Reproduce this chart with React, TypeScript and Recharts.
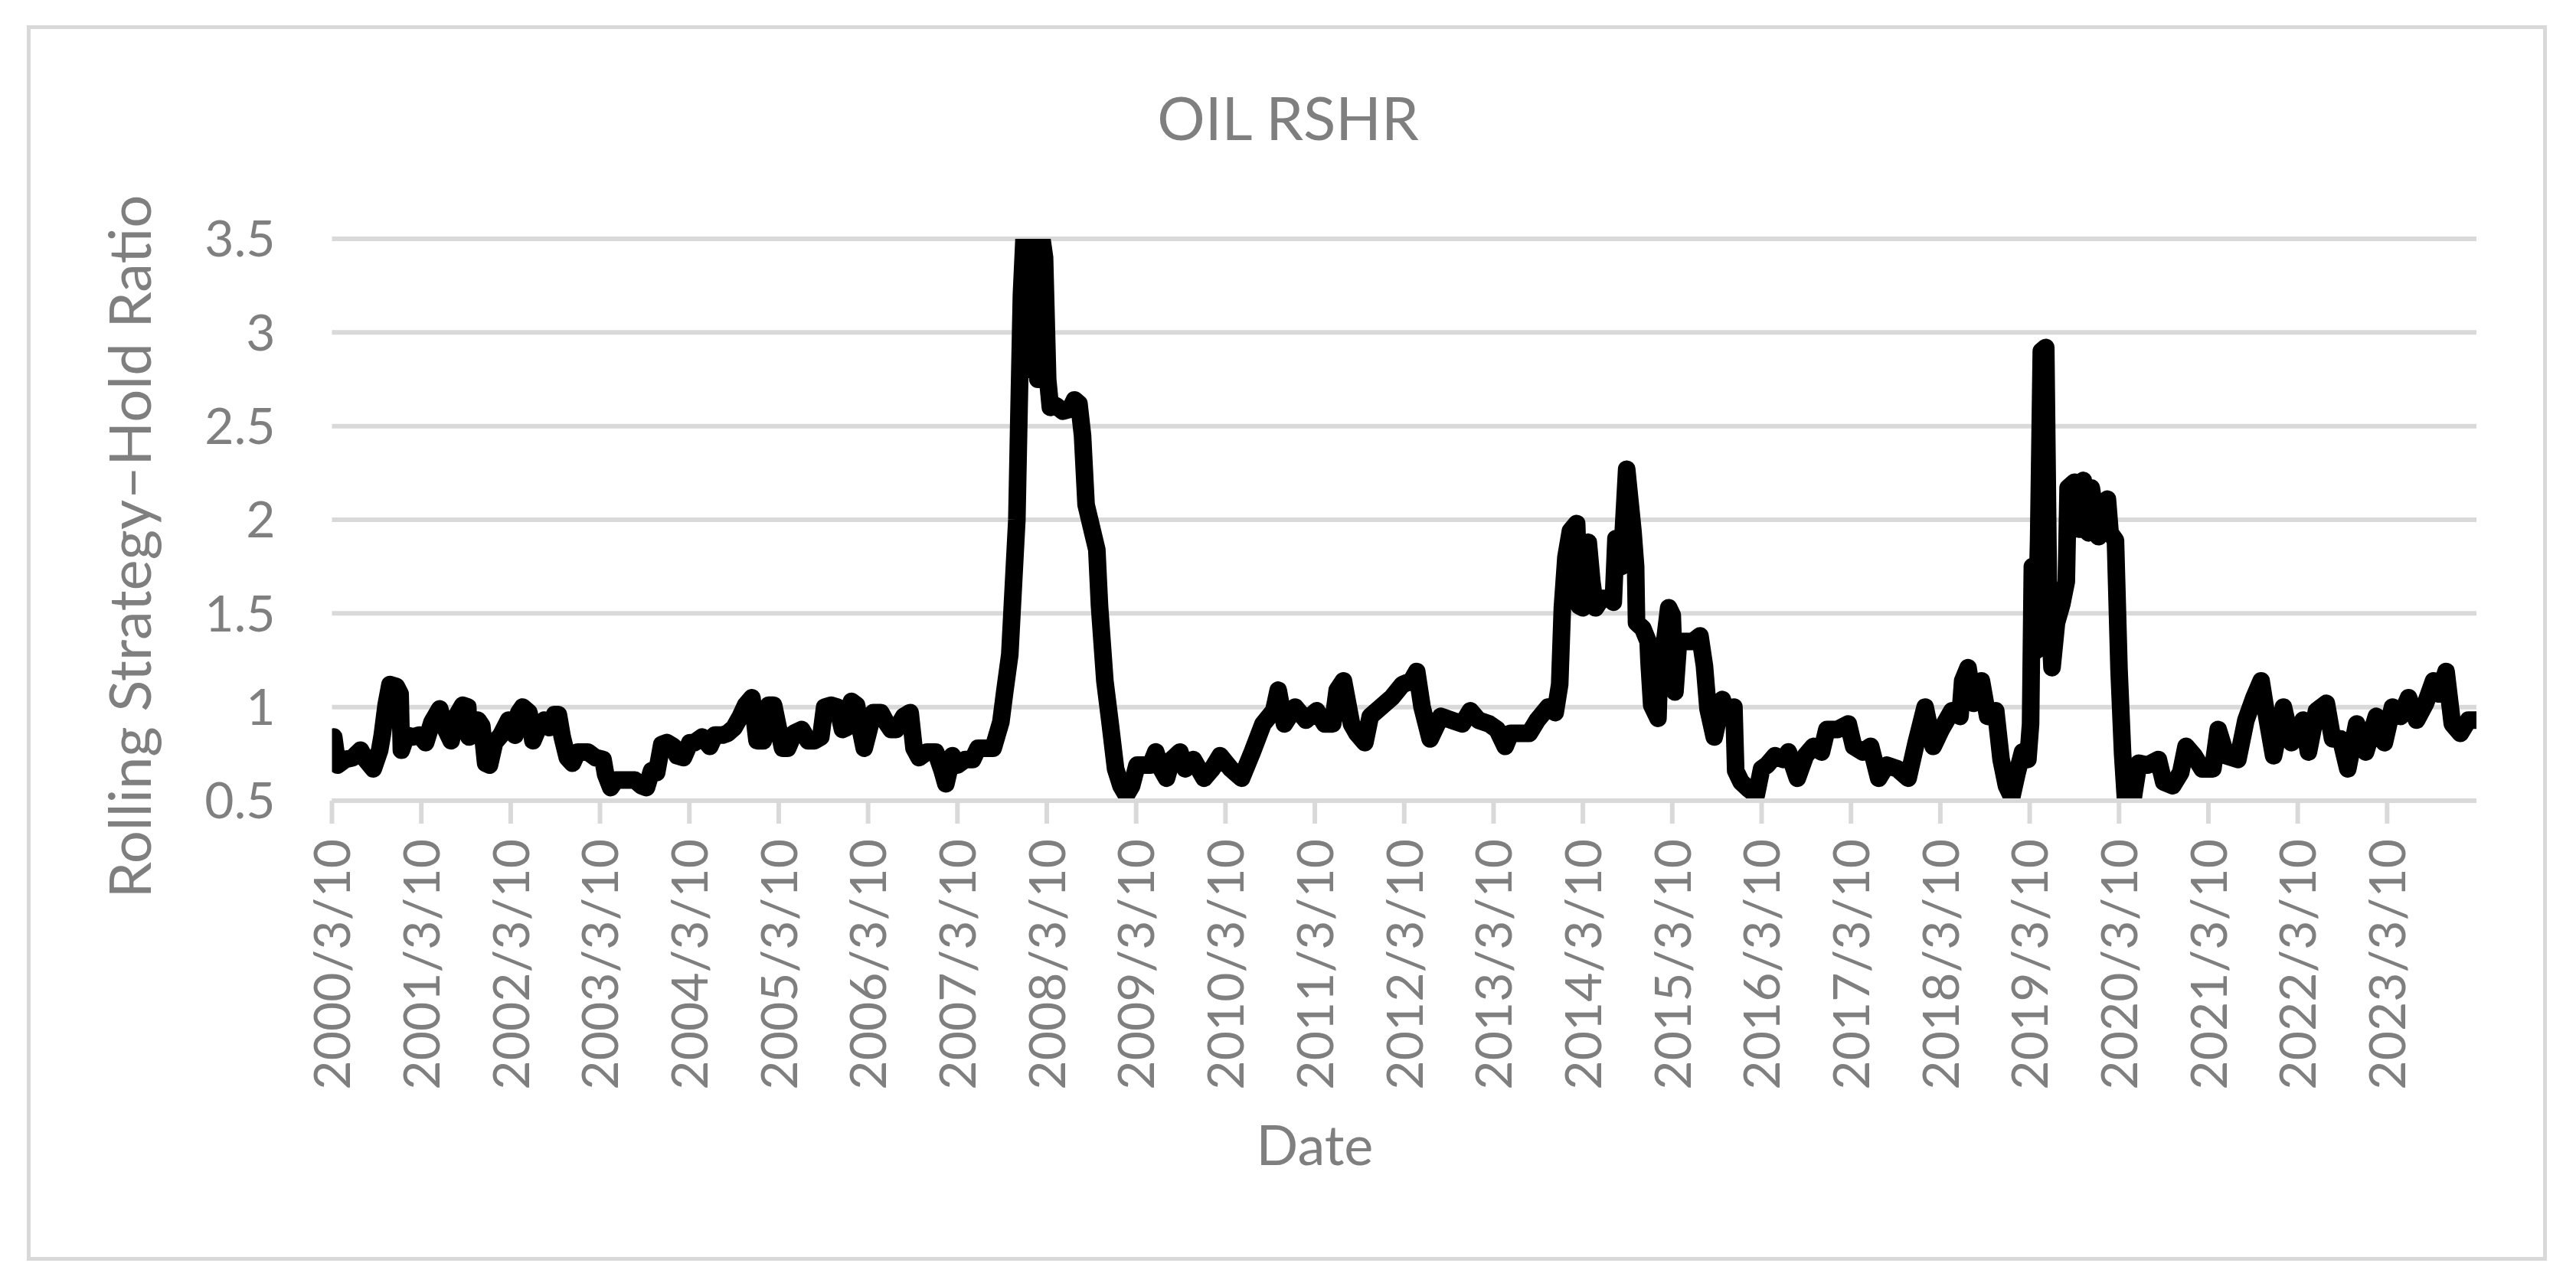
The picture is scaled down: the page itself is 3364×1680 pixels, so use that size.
import { LineChart, Line, XAxis, YAxis, CartesianGrid } from "recharts";

const FONT = 'Lato, "Open Sans", sans-serif';
const TEXT = "#7f7f7f";
const GRID = "#d9d9d9";

// one tick per year, each on March 10
const tickYears = [
  2000, 2001, 2002, 2003, 2004, 2005, 2006, 2007, 2008, 2009, 2010, 2011,
  2012, 2013, 2014, 2015, 2016, 2017, 2018, 2019, 2020, 2021, 2022, 2023,
];
const yTicks = [0.5, 1, 1.5, 2, 2.5, 3, 3.5];

// [years after 2000/3/10, rolling strategy–hold ratio]
const ratio2000s: [number, number][] = [
  [0, 0.83], [0.02, 0.84], [0.063, 0.69], [0.149, 0.72], [0.234, 0.73], [0.32, 0.77],
  [0.377, 0.72], [0.463, 0.67], [0.534, 0.77], [0.563, 0.85], [0.606, 1.01], [0.649, 1.12],
  [0.72, 1.11], [0.763, 1.07], [0.777, 0.77], [0.834, 0.85], [0.906, 0.84], [0.977, 0.85],
  [1.049, 0.81], [1.12, 0.92], [1.206, 0.99], [1.263, 0.89], [1.334, 0.82], [1.391, 0.95],
  [1.463, 1.01], [1.52, 1.0], [1.534, 0.84], [1.577, 0.85], [1.634, 0.93], [1.677, 0.9],
  [1.72, 0.7], [1.763, 0.69], [1.82, 0.81], [1.891, 0.85], [1.977, 0.93], [2.049, 0.85],
  [2.091, 0.97], [2.134, 1.0], [2.206, 0.97], [2.249, 0.82], [2.32, 0.9], [2.377, 0.93],
  [2.434, 0.89], [2.491, 0.96], [2.534, 0.96], [2.577, 0.84], [2.634, 0.73], [2.691, 0.7],
  [2.749, 0.76], [2.863, 0.76], [2.949, 0.73], [3.034, 0.72], [3.063, 0.64], [3.12, 0.57],
  [3.177, 0.61], [3.263, 0.61], [3.334, 0.61], [3.391, 0.61], [3.463, 0.58], [3.52, 0.57],
  [3.577, 0.66], [3.634, 0.65], [3.691, 0.8], [3.749, 0.81], [3.82, 0.79], [3.863, 0.74],
  [3.934, 0.73], [4.006, 0.81],
];

const ratio2004s: [number, number][] = [
  [4.057, 0.81], [4.143, 0.84], [4.229, 0.79], [4.286, 0.85], [4.371, 0.85], [4.429, 0.86],
  [4.5, 0.89], [4.571, 0.95], [4.629, 1.01], [4.7, 1.05], [4.757, 0.82], [4.829, 0.82],
  [4.886, 1.01], [4.943, 1.01], [4.986, 0.91], [5.043, 0.78], [5.1, 0.78], [5.171, 0.86],
  [5.257, 0.88], [5.329, 0.82], [5.4, 0.82], [5.471, 0.84], [5.514, 1.0], [5.586, 1.01],
  [5.657, 1.0], [5.714, 0.88], [5.757, 0.89], [5.814, 1.03], [5.871, 1.01], [5.914, 0.88],
  [5.957, 0.78], [6.0, 0.86], [6.057, 0.97], [6.143, 0.97], [6.2, 0.92], [6.257, 0.88],
  [6.314, 0.88], [6.4, 0.95], [6.471, 0.97], [6.514, 0.78], [6.571, 0.73], [6.657, 0.76],
  [6.757, 0.76], [6.829, 0.66], [6.871, 0.59], [6.943, 0.74], [7.0, 0.69], [7.086, 0.72],
  [7.171, 0.72], [7.229, 0.78], [7.314, 0.78], [7.4, 0.78],
];

const ratio2007s: [number, number][] = [
  [7.486, 0.92], [7.529, 1.08], [7.586, 1.28], [7.61, 1.5], [7.665, 2.0], [7.69, 2.6],
  [7.716, 3.2], [7.75, 3.55], [7.78, 2.9], [7.81, 3.55], [7.84, 2.8], [7.87, 3.55],
  [7.9, 2.75], [7.93, 3.55], [7.975, 3.4], [8.01, 2.75], [8.04, 2.6], [8.1, 2.61],
  [8.18, 2.58], [8.26, 2.59], [8.31, 2.64], [8.36, 2.62], [8.4, 2.45], [8.44, 2.08],
  [8.5, 1.96], [8.56, 1.84], [8.59, 1.54], [8.65, 1.14], [8.71, 0.91], [8.77, 0.67],
  [8.83, 0.58], [8.89, 0.53], [8.95, 0.58], [9.01, 0.69], [9.16, 0.69], [9.22, 0.76],
  [9.28, 0.67], [9.34, 0.62], [9.4, 0.72], [9.49, 0.76], [9.55, 0.67], [9.64, 0.72],
  [9.76, 0.62], [9.85, 0.67], [9.94, 0.74], [10.06, 0.67], [10.18, 0.62], [10.3, 0.76],
  [10.42, 0.91], [10.54, 0.98], [10.59, 1.09], [10.66, 0.91], [10.78, 1.0], [10.9, 0.93],
  [11.02, 0.98], [11.11, 0.91], [11.2, 0.91], [11.25, 1.09], [11.32, 1.14], [11.41, 0.91],
  [11.47, 0.86], [11.56, 0.81], [11.62, 0.95], [11.74, 1.0], [11.86, 1.05], [11.98, 1.12],
  [12.08, 1.14], [12.14, 1.19], [12.2, 1.0], [12.29, 0.83], [12.41, 0.95], [12.53, 0.93],
  [12.65, 0.91], [12.74, 0.98], [12.83, 0.93], [12.95, 0.91], [13.04, 0.88], [13.13, 0.79],
  [13.19, 0.86], [13.31, 0.86], [13.4, 0.86], [13.49, 0.93], [13.61, 1.0], [13.69, 0.97],
  [13.74, 1.12], [13.77, 1.53], [13.81, 1.8], [13.86, 1.94], [13.93, 1.98], [13.96, 1.54],
  [14.0, 1.53], [14.06, 1.88], [14.1, 1.67], [14.14, 1.53], [14.21, 1.58], [14.3, 1.58],
  [14.34, 1.56], [14.37, 1.9], [14.43, 1.75], [14.49, 2.27], [14.56, 1.94], [14.59, 1.75],
  [14.6, 1.45], [14.67, 1.42], [14.73, 1.35], [14.74, 1.24], [14.77, 1.01], [14.84, 0.94],
  [14.86, 1.26], [14.91, 1.33], [14.96, 1.53], [15.0, 1.49], [15.03, 1.08], [15.07, 1.35],
  [15.14, 1.35], [15.23, 1.35], [15.31, 1.38], [15.36, 1.22], [15.4, 0.99], [15.47, 0.84],
  [15.56, 1.04], [15.63, 0.94], [15.69, 1.0], [15.71, 0.66], [15.77, 0.6], [15.86, 0.56],
];

const ratio2016s: [number, number][] = [
  [15.94, 0.53], [16.0, 0.67], [16.06, 0.69], [16.15, 0.74], [16.24, 0.72], [16.3, 0.76],
  [16.4, 0.62], [16.49, 0.74], [16.58, 0.79], [16.67, 0.76], [16.73, 0.88], [16.85, 0.88],
  [16.97, 0.91], [17.03, 0.79], [17.13, 0.76], [17.22, 0.79], [17.31, 0.62], [17.4, 0.69],
  [17.52, 0.67], [17.64, 0.62], [17.73, 0.81], [17.83, 1.0], [17.92, 0.79], [18.01, 0.88],
  [18.13, 0.98], [18.22, 0.95], [18.25, 1.14], [18.31, 1.21], [18.37, 1.02], [18.46, 1.14],
  [18.53, 0.95], [18.62, 0.98], [18.68, 0.72], [18.74, 0.58], [18.8, 0.52], [18.86, 0.65],
  [18.92, 0.76], [18.98, 0.72], [19.01, 0.91], [19.03, 1.75], [19.07, 1.3], [19.1, 1.89],
  [19.13, 2.9], [19.18, 2.92], [19.21, 1.61], [19.25, 1.21], [19.3, 1.45], [19.36, 1.55],
  [19.41, 1.67], [19.43, 2.17], [19.5, 2.2], [19.55, 1.95], [19.6, 2.21], [19.66, 1.93],
  [19.69, 2.17], [19.77, 1.91], [19.87, 2.11], [19.9, 1.93], [19.96, 1.89], [20.0, 1.2],
  [20.04, 0.75], [20.08, 0.45], [20.13, 0.42], [20.17, 0.55], [20.22, 0.7], [20.32, 0.69],
  [20.44, 0.72], [20.5, 0.6], [20.6, 0.58], [20.69, 0.65], [20.75, 0.79], [20.84, 0.74],
  [20.93, 0.67], [21.05, 0.67], [21.11, 0.88], [21.2, 0.74], [21.33, 0.72], [21.42, 0.93],
  [21.51, 1.05], [21.59, 1.14], [21.66, 0.93], [21.73, 0.74], [21.84, 1.0], [21.93, 0.81],
  [22.06, 0.93], [22.12, 0.76], [22.21, 0.98], [22.32, 1.02], [22.39, 0.83], [22.48, 0.83],
  [22.56, 0.67], [22.66, 0.91], [22.76, 0.76], [22.88, 0.95], [22.97, 0.81], [23.06, 1.0],
  [23.15, 0.95], [23.24, 1.05], [23.33, 0.93], [23.43, 1.02], [23.52, 1.14], [23.58, 1.07],
  [23.66, 1.19], [23.73, 0.91], [23.82, 0.86], [23.91, 0.93], [24.0, 0.93],
];

const data = [...ratio2000s, ...ratio2004s, ...ratio2007s, ...ratio2016s].map(
  ([t, ratio]) => ({ t, ratio })
);
const tickPositions = tickYears.map((y) => y - tickYears[0]);

function DateTick(props: any) {
  const { x, y, payload } = props;
  const year = tickYears[0] + Math.round(payload.value);
  return (
    <g transform={`translate(${x},${y})`}>
      <text
        transform="rotate(-90)"
        textAnchor="end"
        dy="0.36em"
        fill={TEXT}
        fontSize={66}
        fontFamily={FONT}
      >
        {`${year}/3/10`}
      </text>
    </g>
  );
}

export default function App() {
  return (
    <div style={{ position: "relative", width: 3364, height: 1680, background: "#fff" }}>
      <style>{"body{margin:0}"}</style>
      <div
        style={{
          position: "absolute",
          left: 35,
          top: 33,
          width: 3291,
          height: 1614,
          border: `5px solid ${GRID}`,
          boxSizing: "border-box",
        }}
      />
      <div style={{ position: "absolute", left: 0, top: 0 }}>
        <LineChart
          width={3364}
          height={1680}
          data={data}
          margin={{ top: 312, right: 130, left: 313.5, bottom: 234 }}
        >
          <CartesianGrid vertical={false} stroke={GRID} strokeWidth={6} />
          <XAxis
            dataKey="t"
            type="number"
            domain={[0, 24]}
            ticks={tickPositions}
            interval={0}
            height={400}
            allowDataOverflow
            axisLine={{ stroke: GRID, strokeWidth: 6 }}
            tickLine={{ stroke: GRID, strokeWidth: 6 }}
            tickSize={30}
            tickMargin={20}
            tick={<DateTick />}
          />
          <YAxis
            type="number"
            domain={[0.5, 3.5]}
            ticks={yTicks}
            interval={0}
            width={120}
            allowDataOverflow
            axisLine={false}
            tickLine={false}
            tickSize={0}
            tickMargin={74}
            tick={{ fill: TEXT, fontSize: 66, fontFamily: FONT }}
          />
          <Line
            type="linear"
            dataKey="ratio"
            stroke="#000"
            strokeWidth={23}
            strokeLinejoin="round"
            strokeLinecap="round"
            dot={false}
            activeDot={false}
            isAnimationActive={false}
          />
        </LineChart>
      </div>
      <svg
        width={3364}
        height={1680}
        style={{ position: "absolute", left: 0, top: 0, pointerEvents: "none" }}
        fontFamily={FONT}
        fill={TEXT}
      >
        <text x={1682} y={183} textAnchor="middle" fontSize={78}>
          OIL RSHR
        </text>
        <text
          x={197}
          y={714}
          textAnchor="middle"
          fontSize={76}
          transform="rotate(-90, 197, 714)"
        >
          Rolling Strategy–Hold Ratio
        </text>
        <text x={1717} y={1522} textAnchor="middle" fontSize={72}>
          Date
        </text>
      </svg>
    </div>
  );
}
